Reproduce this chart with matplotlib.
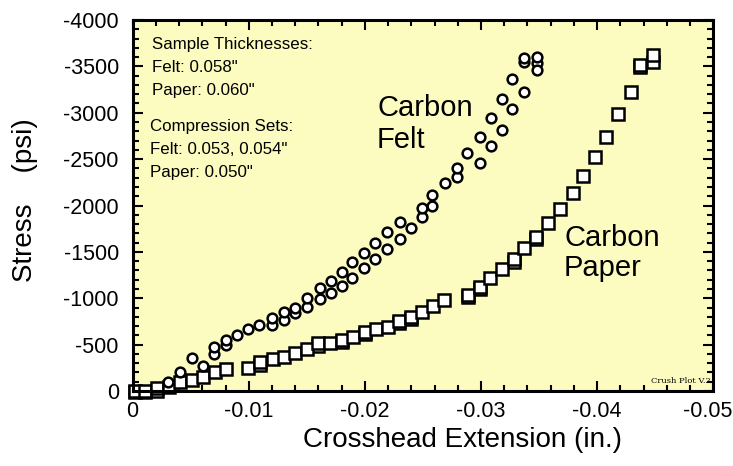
import matplotlib
matplotlib.use("Agg")
import matplotlib.pyplot as plt
import matplotlib.transforms as mtransforms
from matplotlib.ticker import MultipleLocator, FuncFormatter

# carbon felt, two runs (in., psi)
felt1_x = [-0.0030, -0.0041, -0.0051, -0.0070, -0.0080, -0.0090, -0.0099, -0.0109,
           -0.0120, -0.0130, -0.0140, -0.0150, -0.0161, -0.0171, -0.0180, -0.0189,
           -0.0199, -0.0209, -0.0219, -0.0230, -0.0249, -0.0258, -0.0269, -0.0279,
           -0.0299, -0.0309, -0.0318, -0.0327, -0.0337, -0.0348]
felt1_y = [-100, -208, -359, -478, -550, -604, -668, -711,
           -784, -855, -891, -999, -1107, -1189, -1283, -1394,
           -1484, -1592, -1711, -1819, -1970, -2113, -2248, -2401,
           -2741, -2940, -3145, -3360, -3587, -3604]
felt2_x = [-0.0061, -0.0070, -0.0080, -0.0120, -0.0130, -0.0140, -0.0150, -0.0161,
           -0.0171, -0.0180, -0.0189, -0.0199, -0.0209, -0.0219, -0.0230, -0.0240,
           -0.0249, -0.0258, -0.0279, -0.0288, -0.0299, -0.0309, -0.0318, -0.0327,
           -0.0337, -0.0337, -0.0348, -0.0348]
felt2_y = [-270, -399, -496, -711, -765, -838, -902, -992,
           -1053, -1132, -1215, -1323, -1423, -1531, -1635, -1760,
           -1879, -1994, -2310, -2569, -2455, -2641, -2814, -3040,
           -3226, -3550, -3539, -3460]

# carbon paper, two runs
paper1_x = [-0.0002, -0.0011, -0.0021, -0.0031, -0.0041, -0.0051, -0.0061, -0.0071,
            -0.0080, -0.0099, -0.0110, -0.0121, -0.0130, -0.0140, -0.0150, -0.0160,
            -0.0170, -0.0180, -0.0190, -0.0200, -0.0210, -0.0220, -0.0229, -0.0240,
            -0.0249, -0.0259, -0.0268, -0.0289, -0.0299, -0.0308, -0.0318, -0.0328,
            -0.0337, -0.0347, -0.0358, -0.0368, -0.0379, -0.0388, -0.0398, -0.0408,
            -0.0418, -0.0429, -0.0437, -0.0448]
paper1_y = [0, 0, -29, -46, -94, -119, -154, -202,
            -237, -251, -309, -345, -370, -406, -453, -514,
            -521, -550, -585, -639, -665, -687, -755, -801,
            -855, -916, -981, -1035, -1124, -1215, -1312, -1420,
            -1545, -1663, -1808, -1962, -2131, -2318, -2526, -2741,
            -2986, -3226, -3514, -3622]
paper2_x = [-0.0002, -0.0011, -0.0021, -0.0110, -0.0160, -0.0180, -0.0200, -0.0229,
            -0.0240, -0.0289, -0.0299, -0.0328, -0.0347, -0.0437, -0.0448]
paper2_y = [10, 10, -5, -285, -490, -525, -615, -730,
            -775, -1010, -1100, -1395, -1640, -3490, -3550]

note_lines = ['Sample Thicknesses:', 'Felt: 0.058"', 'Paper: 0.060"',
              'Compression Sets:', 'Felt: 0.053, 0.054"', 'Paper: 0.050"']
note_y = [0.933, 0.871, 0.811, 0.712, 0.650, 0.590]

plt.rcParams['font.family'] = ['Liberation Sans', 'DejaVu Sans']
plt.rcParams['axes.unicode_minus'] = False

fig = plt.figure(figsize=(7.33, 4.66), dpi=100)
ax = fig.add_axes([0.181, 0.161, 0.792, 0.796])
ax.set_facecolor('#FCFCC0')

circ = dict(ls='none', marker='o', ms=7, mfc='white', mec='black', mew=1.8, clip_on=False)
sq = dict(ls='none', marker='s', ms=8, mfc='white', mec='black', mew=1.8, clip_on=False)
ax.plot(paper2_x, paper2_y, **sq)
ax.plot(paper1_x, paper1_y, **sq)
ax.plot(felt2_x, felt2_y, **circ)
ax.plot(felt1_x, felt1_y, **circ)

ax.set_xlim(0, -0.05)
ax.set_ylim(0, -4000)
ax.xaxis.set_major_locator(MultipleLocator(0.01))
ax.xaxis.set_minor_locator(MultipleLocator(0.002))
ax.yaxis.set_major_locator(MultipleLocator(500))
ax.yaxis.set_minor_locator(MultipleLocator(100))
fmt = FuncFormatter(lambda v, p: '0' if abs(v) < 1e-9 else f'{v:g}')
ax.xaxis.set_major_formatter(fmt)
ax.yaxis.set_major_formatter(fmt)
ax.tick_params(which='both', direction='in', top=True, right=True, width=1.5,
               labelsize=15.5)
ax.tick_params(which='major', length=7)
ax.tick_params(which='minor', length=4)
ax.tick_params(axis='x', pad=7)
ax.tick_params(axis='y', pad=10)
for s in ax.spines.values():
    s.set_linewidth(2.2)

ax.set_xlabel('Crosshead Extension (in.)', fontsize=20)
ax.xaxis.set_label_coords(0.569, -0.098)
ax.set_ylabel('Stress    (psi)', fontsize=20)
ax.yaxis.set_label_coords(-0.163, 0.515)

# the -0.05 label sits right at the figure edge, nudge it in a bit
fig.canvas.draw()
for lab in ax.get_xticklabels():
    if lab.get_text() == '-0.05':
        lab.set_transform(lab.get_transform() +
                          mtransforms.ScaledTranslation(-6 / 100, 0, fig.dpi_scale_trans))

for t, yy in zip(note_lines, note_y):
    ax.text(0.033 if yy > 0.75 else 0.030, yy, t, transform=ax.transAxes,
            fontsize=12.2, va='center', ha='left')

ax.text(0.421, 0.763, 'Carbon', transform=ax.transAxes, fontsize=21, va='center')
ax.text(0.421, 0.677, 'Felt', transform=ax.transAxes, fontsize=21, va='center')
ax.text(0.743, 0.412, 'Carbon', transform=ax.transAxes, fontsize=21, va='center')
ax.text(0.743, 0.332, 'Paper', transform=ax.transAxes, fontsize=21, va='center')
ax.text(0.995, 0.027, 'Crush Plot V.2', transform=ax.transAxes, fontsize=6,
        family='serif', ha='right', va='center')

fig.savefig('out.png', dpi=100)
